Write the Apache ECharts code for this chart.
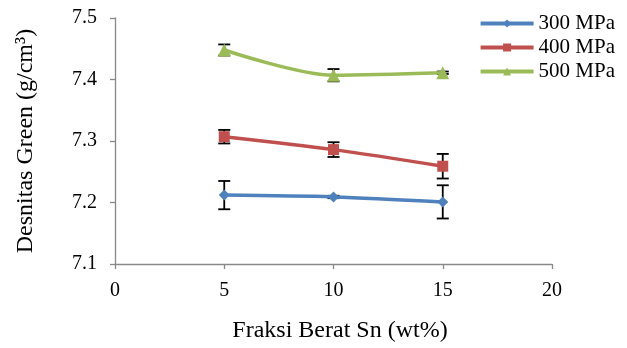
<!DOCTYPE html>
<html>
<head>
<meta charset="utf-8">
<script src="https://cdn.jsdelivr.net/npm/echarts@6/dist/echarts.min.js"></script>
<style>html,body{margin:0;padding:0;background:#fff}#c{width:627px;height:348px}</style>
</head>
<body>
<div id="c"></div>
<script>
var xValues = [5, 10, 15];
var s300 = [7.212, 7.209, 7.201];
var s400 = [7.307, 7.286, 7.259];
var s500 = [7.448, 7.407, 7.411];
var e300 = [0.023, 0.002, 0.027];
var e400 = [0.011, 0.012, 0.02];
var e500 = [0.009, 0.01, 0.002];
var seriesNames = ['300 MPa', '400 MPa', '500 MPa'];
var colors = ['#4f81bd', '#c0504d', '#9bbb59'];
var xTicks = [0, 5, 10, 15, 20];
var yTicks = [7.1, 7.2, 7.3, 7.4, 7.5];

var font = 'Liberation Serif';
function pairs(v) { return xValues.map(function (x, i) { return [x, v[i]]; }); }
function errData(v, e) { return xValues.map(function (x, i) { return [x, v[i] - e[i], v[i] + e[i]]; }); }

function errSeries(v, e) {
  return {
    type: 'custom',
    z: 1,
    silent: true,
    renderItem: function (params, api) {
      var x = api.value(0);
      var lo = api.coord([x, api.value(1)]);
      var hi = api.coord([x, api.value(2)]);
      var w = 6;
      var st = { stroke: '#000', lineWidth: 1.8 };
      return {
        type: 'group',
        children: [
          { type: 'line', shape: { x1: lo[0], y1: lo[1], x2: hi[0], y2: hi[1] }, style: st },
          { type: 'line', shape: { x1: lo[0] - w, y1: lo[1], x2: lo[0] + w, y2: lo[1] }, style: st },
          { type: 'line', shape: { x1: hi[0] - w, y1: hi[1], x2: hi[0] + w, y2: hi[1] }, style: st }
        ]
      };
    },
    data: errData(v, e)
  };
}

function lineSeries(name, v, color, symbol, size) {
  return {
    name: name,
    type: 'line',
    z: 3,
    smooth: 0.3,
    data: pairs(v),
    symbol: symbol,
    symbolSize: size,
    lineStyle: { color: color, width: 3.5 },
    itemStyle: { color: color },
    emphasis: { disabled: true }
  };
}

var chart = echarts.init(document.getElementById('c'), null, { renderer: 'canvas' });
chart.setOption({
  animation: false,
  color: colors,
  grid: { left: 115, right: 75, top: 18, bottom: 83 },
  legend: {
    right: 7,
    top: 8,
    orient: 'vertical',
    itemWidth: 53,
    itemHeight: 10,
    itemGap: 3,
    lineStyle: { width: 4 },
    textStyle: { fontFamily: font, fontSize: 21, color: '#000' },
    data: seriesNames
  },
  xAxis: {
    type: 'value',
    min: 0, max: 20, interval: 5,
    name: 'Fraksi Berat Sn (wt%)',
    nameLocation: 'middle',
    nameGap: 55,
    nameTextStyle: { fontFamily: font, fontSize: 24, color: '#000', padding: [0, 0, 0, 13] },
    axisLine: { onZero: false, lineStyle: { color: '#898989', width: 1.3 } },
    axisTick: { show: true, length: 5, lineStyle: { color: '#898989', width: 1.3 } },
    axisLabel: { fontFamily: font, fontSize: 20, color: '#000', margin: 17,
      formatter: function (v) { return xTicks.indexOf(v) >= 0 ? String(v) : ''; } },
    splitLine: { show: false }
  },
  yAxis: {
    type: 'value',
    min: 7.1, max: 7.5, interval: 0.1,
    name: 'Desnitas Green (g/cm³)',
    nameLocation: 'middle',
    nameGap: 77,
    nameTextStyle: { fontFamily: font, fontSize: 24, color: '#000' },
    axisLine: { show: true, lineStyle: { color: '#898989', width: 1.3 } },
    axisTick: { show: true, length: 5, lineStyle: { color: '#898989', width: 1.3 } },
    axisLabel: { fontFamily: font, fontSize: 20, color: '#000', margin: 18,
      formatter: function (v) { return v.toFixed(1); } },
    splitLine: { show: false }
  },
  series: [
    errSeries(s300, e300),
    errSeries(s400, e400),
    errSeries(s500, e500),
    lineSeries(seriesNames[0], s300, colors[0], 'diamond', 11),
    lineSeries(seriesNames[1], s400, colors[1], 'rect', 11),
    lineSeries(seriesNames[2], s500, colors[2], 'triangle', 13)
  ]
});
</script>
</body>
</html>
